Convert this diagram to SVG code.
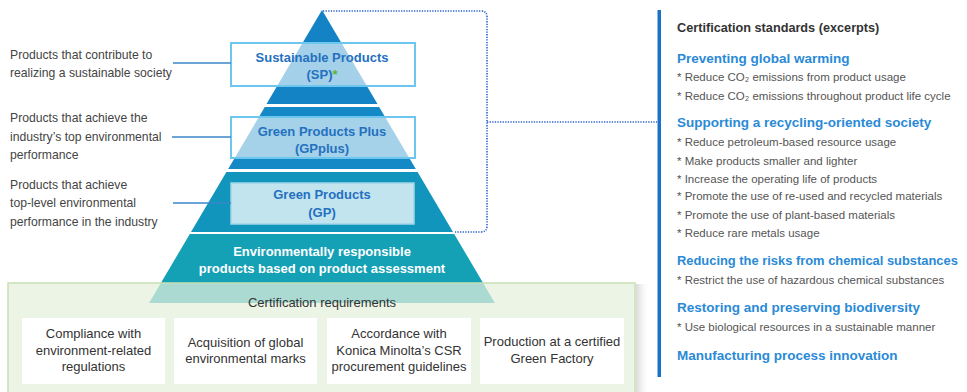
<svg xmlns="http://www.w3.org/2000/svg" width="967" height="392" viewBox="0 0 967 392">
<defs>
<linearGradient id="shR" x1="0" y1="0" x2="1" y2="0">
<stop offset="0" stop-color="#cfcfcf" stop-opacity="0.8"/>
<stop offset="1" stop-color="#ffffff" stop-opacity="0"/>
</linearGradient>
</defs>
<style>
text{font-family:"Liberation Sans",Arial,sans-serif}
.lbl{font-size:12.2px;fill:#444}
.box{fill:#ffffff;fill-opacity:0.62;stroke:#6cc6ee;stroke-width:2}
.bt{font-size:13px;font-weight:bold;fill:#2470c0;text-anchor:middle}
.wt{font-size:13px;font-weight:bold;fill:#ffffff;text-anchor:middle}
.rq{fill:#ffffff}
.rt{font-size:13px;fill:#333;text-anchor:middle}
.hd{font-size:13.5px;font-weight:bold;fill:#2a8ad6}
.it{font-size:11.5px;fill:#555}
.conn{stroke:#3a86c8;stroke-width:1.5;fill:none}
.dot{stroke:#2b63c9;stroke-width:1.6;fill:none;stroke-dasharray:1.3 1.3}
</style>
<rect width="967" height="392" fill="#ffffff"/>

<g id="pyramid">
<polygon points="322,10 377.5,104 266.5,104" fill="#1383c5"/>
<polygon points="264.8,107 379.2,107 415.8,169 228.2,169" fill="#1489c5"/>
<polygon points="226.4,172 417.6,172 453,232 191,232" fill="#1295bd"/>
<polygon points="189.8,234 454.2,234 494.9,303 149.1,303" fill="#14a1b6"/>
</g>

<g id="sp">
<rect class="box" x="231" y="43" width="184" height="43"/>
<text class="bt" x="322" y="62">Sustainable Products</text>
<text class="bt" x="322" y="79">(SP)<tspan fill="#5bb534">*</tspan></text>
</g>
<g id="gpplus">
<rect class="box" x="231" y="117" width="184" height="41"/>
<text class="bt" x="322" y="136">Green Products Plus</text>
<text class="bt" x="322" y="153">(GPplus)</text>
</g>
<g id="gp">
<rect x="231" y="183" width="183" height="41" fill="#c2e4ef" stroke="#9ed6e8" stroke-width="1.5"/>
<text class="bt" x="322" y="199">Green Products</text>
<text class="bt" x="322" y="217">(GP)</text>
</g>
<g id="erp">
<text class="wt" x="322" y="256">Environmentally responsible</text>
<text class="wt" x="322" y="273">products based on product assessment</text>
</g>

<g id="label-sp">
<text class="lbl" x="10" y="59">Products that contribute to</text>
<text class="lbl" x="10" y="77">realizing a sustainable society</text>
</g>
<g id="label-gpplus">
<text class="lbl" x="10" y="122">Products that achieve the</text>
<text class="lbl" x="10" y="141">industry’s top environmental</text>
<text class="lbl" x="10" y="159">performance</text>
</g>
<g id="label-gp">
<text class="lbl" x="10" y="189">Products that achieve</text>
<text class="lbl" x="10" y="207">top-level environmental</text>
<text class="lbl" x="10" y="226">performance in the industry</text>
</g>

<g id="requirements">
<rect x="636" y="284" width="14" height="120" fill="url(#shR)"/>
<rect x="8" y="283" width="627" height="120" fill="#e4f0dc" fill-opacity="0.72" stroke="#c6e0b4" stroke-width="1.5"/>
<text class="rt" x="322" y="307" font-size="12.5">Certification requirements</text>
</g>
<g id="req1">
<rect class="rq" x="22" y="318" width="143" height="66"/>
<text class="rt" x="93.5" y="338">Compliance with</text>
<text class="rt" x="93.5" y="355">environment-related</text>
<text class="rt" x="93.5" y="371">regulations</text>
</g>
<g id="req2">
<rect class="rq" x="174" y="318" width="143" height="66"/>
<text class="rt" x="245.5" y="347">Acquisition of global</text>
<text class="rt" x="245.5" y="363">environmental marks</text>
</g>
<g id="req3">
<rect class="rq" x="327" y="318" width="144" height="66"/>
<text class="rt" x="399" y="338">Accordance with</text>
<text class="rt" x="399" y="355">Konica Minolta’s CSR</text>
<text class="rt" x="399" y="371">procurement guidelines</text>
</g>
<g id="req4">
<rect class="rq" x="480" y="318" width="144" height="66"/>
<text class="rt" x="552" y="346">Production at a certified</text>
<text class="rt" x="552" y="363">Green Factory</text>
</g>

<g id="standards">
<rect x="657.5" y="10" width="3.5" height="367" fill="#1a72c6"/>
<text x="677" y="32" font-size="12.7px" font-weight="bold" fill="#333">Certification standards (excerpts)</text>
<text class="hd" x="677" y="63">Preventing global warming</text>
<text class="it" x="677" y="81">* Reduce CO₂ emissions from product usage</text>
<text class="it" x="677" y="100">* Reduce CO₂ emissions throughout product life cycle</text>
<text class="hd" x="677" y="127">Supporting a recycling-oriented society</text>
<text class="it" x="677" y="146">* Reduce petroleum-based resource usage</text>
<text class="it" x="677" y="165">* Make products smaller and lighter</text>
<text class="it" x="677" y="183">* Increase the operating life of products</text>
<text class="it" x="677" y="200">* Promote the use of re-used and recycled materials</text>
<text class="it" x="677" y="219">* Promote the use of plant-based materials</text>
<text class="it" x="677" y="237">* Reduce rare metals usage</text>
<text class="hd" x="677" y="265" style="font-size:12.9px">Reducing the risks from chemical substances</text>
<text class="it" x="677" y="284">* Restrict the use of hazardous chemical substances</text>
<text class="hd" x="677" y="312">Restoring and preserving biodiversity</text>
<text class="it" x="677" y="331">* Use biological resources in a sustainable manner</text>
<text class="hd" x="677" y="360">Manufacturing process innovation</text>
</g>

<g id="connectors">
<line class="conn" x1="173" y1="63" x2="231" y2="63"/>
<line class="conn" x1="172" y1="137" x2="231" y2="137"/>
<line class="conn" x1="173" y1="203" x2="231" y2="203"/>
<path class="dot" d="M323,11 H481 Q487,11 487,17 V226 Q487,232 481,232 H455"/>
<path class="dot" d="M487,122 H657"/>
</g>
</svg>
